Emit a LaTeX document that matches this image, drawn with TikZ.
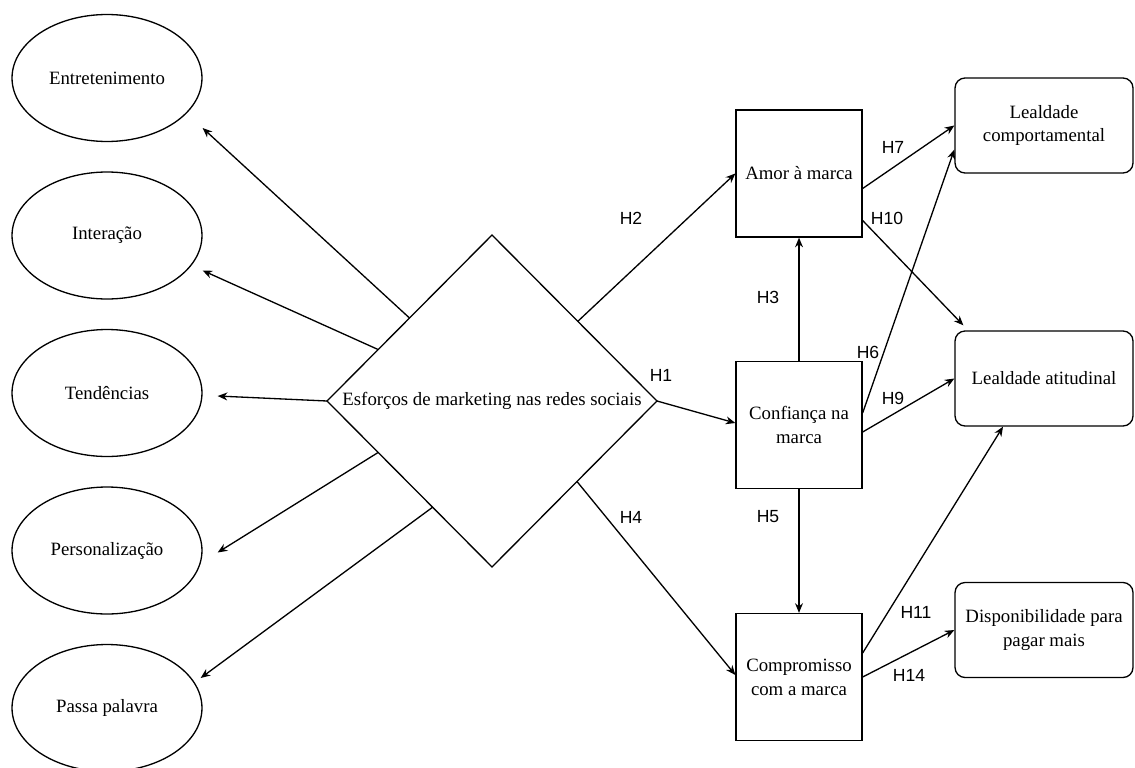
\documentclass[tikz,border=0pt]{standalone}
\usepackage{fontspec}
\setmainfont{Liberation Serif}
\newfontfamily\hypfont{Liberation Sans}
\usetikzlibrary{calc,shapes.geometric,arrows.meta}

\begin{document}
\begin{tikzpicture}[x=0.02cm,y=-0.02cm,line width=0.75pt,
	txt/.style={font=\fontsize{10.7}{13.6}\selectfont,align=center},
	oval/.style={ellipse,draw,txt,minimum width=3.8cm,minimum height=2.54cm},
	cbox/.style={rectangle,draw,txt,minimum width=2.52cm,minimum height=2.54cm},
	rbox/.style={rectangle,rounded corners=0.2cm,draw,txt,minimum width=3.56cm,minimum height=1.9cm},
	hyp/.style={font=\hypfont\fontsize{10}{12}\selectfont,inner sep=0pt},
	arr/.style={-{Stealth[length=5.5pt,width=4.5pt]}}]

\useasboundingbox (0,0) rectangle (1135,767);

\foreach \i/\nm/\txt in {0/ent/Entretenimento,1/inter/Interação,2/tend/Tendências,3/pers/Personalização,4/passa/Passa palavra}
{
	\node[oval](\nm) at ($(107,78)+\i*(0,157.5)$){\txt};
}

\node[diamond,draw,minimum width=6.6cm,minimum height=6.64cm,inner sep=0pt,outer sep=0pt](esf) at (492,401){};
\node[txt](esftxt) at (esf.center){Esforços de marketing nas redes sociais};

\node[cbox](amor) at (799,173.5){Amor à marca};
\node[cbox](conf) at (799,425){Confiança na\\marca};
\node[cbox](comp) at (799,677){Compromisso\\com a marca};

\node[rbox](lcomp) at (1044,125.5){Lealdade\\comportamental};
\node[rbox](latit) at (1044,378.5){Lealdade atitudinal};
\node[rbox](disp) at (1044,630){Disponibilidade para\\pagar mais};

%draw arrows to the ovals
\draw[arr](esf.north west)--($(ent.east)+(0,50)$);
\draw[arr]($(esf.west)!0.31!(esf.north)$)--($(inter.east)+(0,35)$);
\draw[arr](esf.west)--($(tend.east)+(15,3)$);
\draw[arr]($(esf.west)!0.31!(esf.south)$)--($(pers.east)+(15,2)$);
\draw[arr]($(esf.west)!0.64!(esf.south)$)--($(passa.east)+(-2,-30)$);

%draw hypotheses
\draw[arr]($(esf.north)!0.52!(esf.east)$)--(amor.west);
\draw[arr](esf.east)--($(conf.west)+(0,-2)$);
\draw[arr]($(esf.east)!0.485!(esf.south)$)--($(comp.west)+(0,-2)$);
\draw[arr](conf.north)--(amor.south);
\draw[arr](conf.south)--(comp.north);
\draw[arr]($(amor.east)+(0,15)$)--(lcomp.west);
\draw[arr]($(amor.east)+(0,47)$)--($(latit.north west)+(9,-5)$);
\draw[arr]($(conf.east)+(0,-12)$)--($(lcomp.west)+(0,24)$);
\draw[arr]($(conf.east)+(0,7)$)--(latit.west);
\draw[arr]($(comp.east)+(0,-24)$)--($(latit.south)+(-41,0)$);
\draw[arr](comp.east)--(disp.west);

%add labels
\foreach \t/\x/\y in {H1/661/375,H2/631/218,H3/768/297,H4/631/517,H5/768/517,H6/868/352,H7/893/147,H9/893/398,H10/887/218,H11/916/612,H14/909/675}
{
	\node[hyp](\t) at (\x,\y){\t};
}
\end{tikzpicture}
\end{document}
